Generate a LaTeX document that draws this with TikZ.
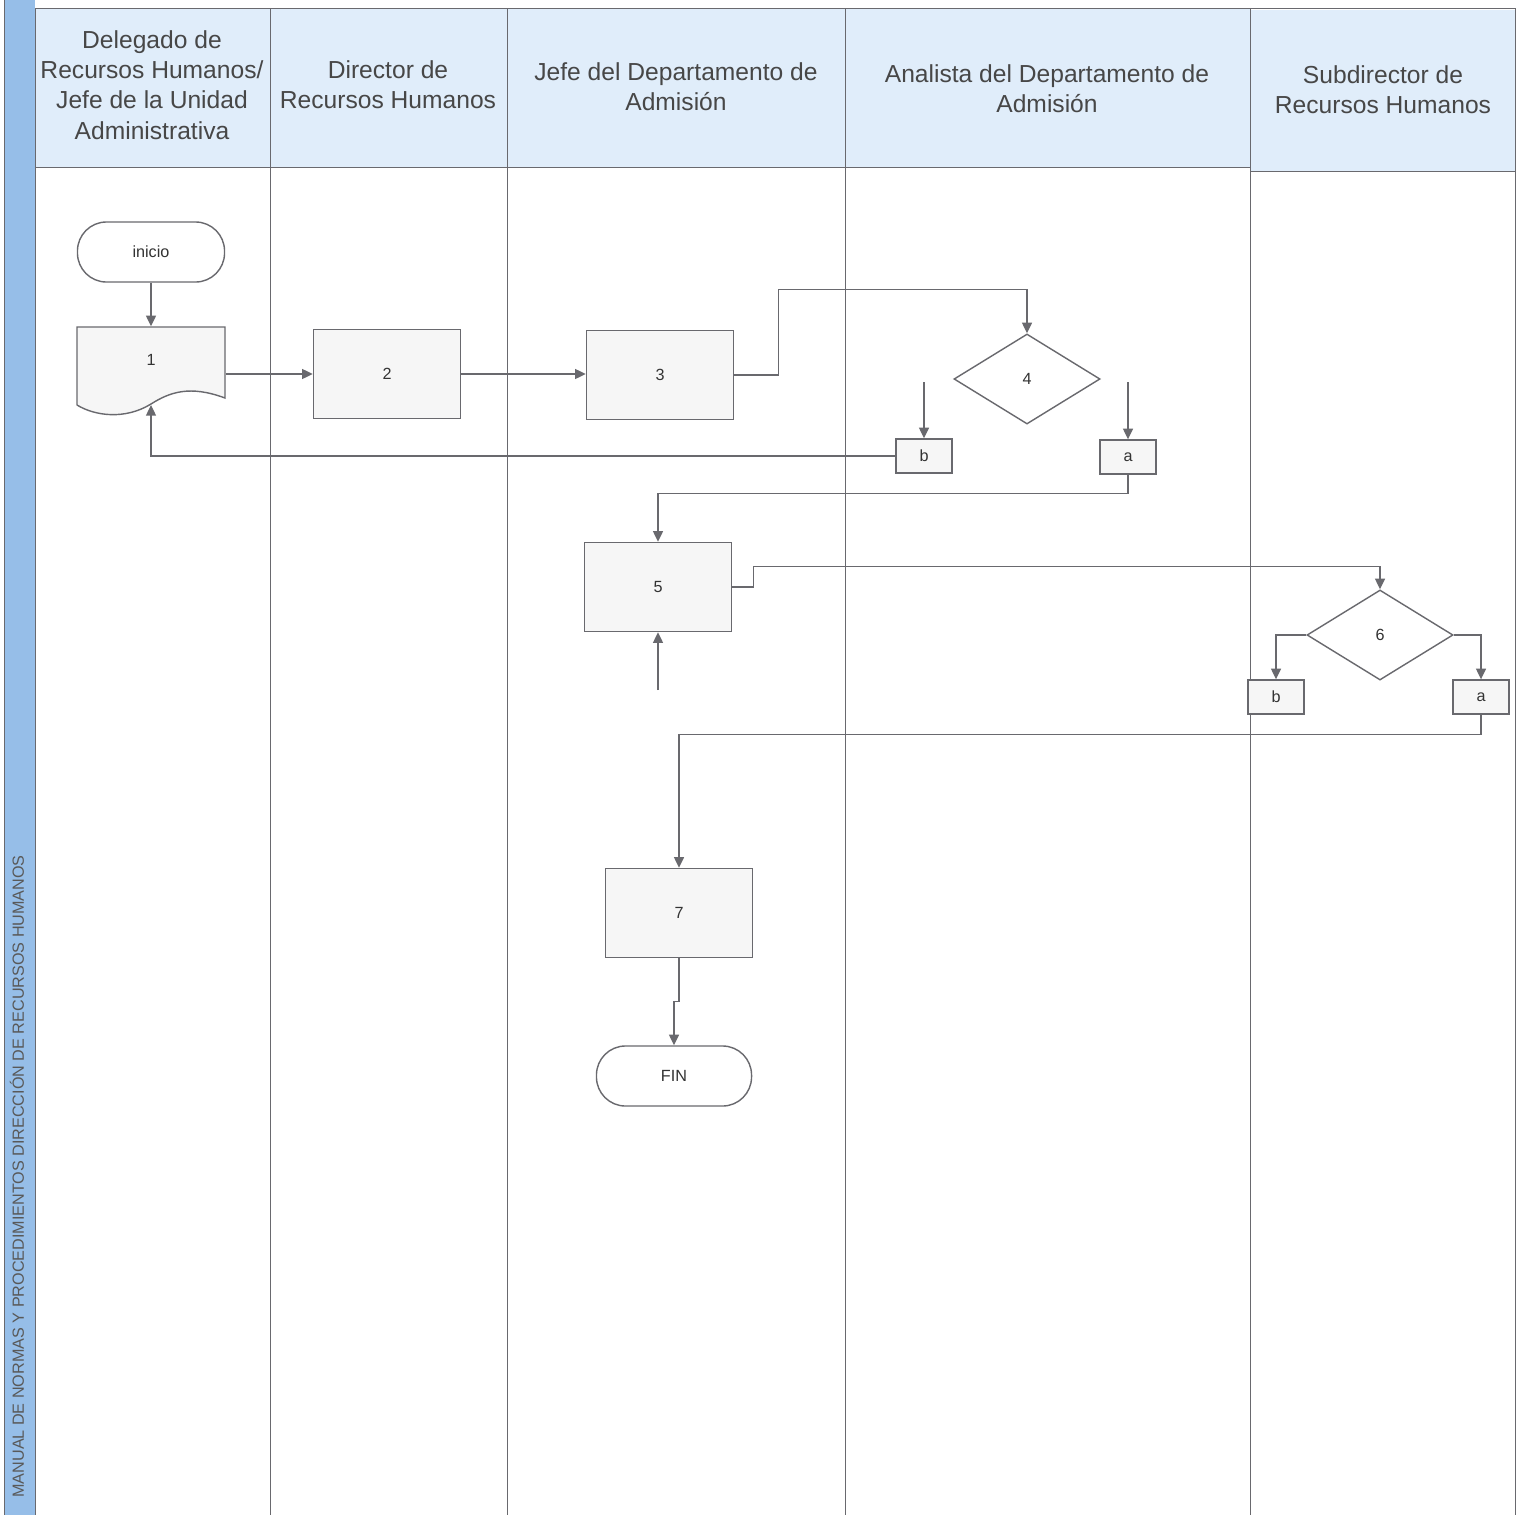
\documentclass[tikz,border=0pt]{standalone}
\usepackage{fontspec}
\setmainfont{Liberation Sans}
\usetikzlibrary{shapes.geometric, arrows.meta, calc}

\definecolor{stripblue}{RGB}{150,190,232}
\definecolor{headblue}{RGB}{224,237,250}
\definecolor{boxgray}{RGB}{246,246,246}
\definecolor{linegray}{RGB}{105,105,110}

\begin{document}
\begin{tikzpicture}[
        x=0.01cm, y=-0.01cm,
        lane/.style={draw=linegray, line width=0.25pt},
        head/.style={font=\fontsize{7}{8.6}\selectfont, text=black!72, align=center},
        proc/.style={rectangle, draw=linegray, line width=0.4pt, fill=boxgray, minimum width=1.47cm, minimum height=0.89cm, font=\fontsize{4.6}{6}\selectfont, text=black!80},
        docu/.style={rectangle, minimum width=1.48cm, minimum height=0.66cm, font=\fontsize{4.6}{6}\selectfont, text=black!80},
        term/.style={rectangle, rounded corners=2.9mm, draw=linegray, line width=0.4pt, fill=white, minimum width=1.47cm, minimum height=0.6cm, font=\fontsize{4.6}{6}\selectfont, text=black!80},
        decis/.style={diamond, draw=linegray, line width=0.4pt, fill=white, minimum width=1.46cm, minimum height=0.9cm, inner sep=0pt, font=\fontsize{4.6}{6}\selectfont, text=black!80},
        conn/.style={rectangle, draw=linegray, line width=0.4pt, fill=boxgray, minimum width=0.56cm, minimum height=0.34cm, inner sep=0pt, font=\fontsize{4.6}{6}\selectfont, text=black!80},
        flow/.style={-{Triangle[length=3pt, width=2.8pt]}, draw=linegray, line width=0.4pt}
    ]
        \useasboundingbox (0,0) rectangle (1518,1515);
        \fill[white] (0,0) rectangle (1518,1515);
        \fill[stripblue] (4,0) rectangle (35,1515);
        \draw[lane] (4,0) -- (4,1515);
        \fill[headblue] (35,8) rectangle (1250,167);
        \fill[headblue] (1250,10) rectangle (1515,171);
        \foreach \x in {35,270,507,845,1250,1515}
            \draw[lane] (\x,8) -- (\x,1515);
        \draw[lane] (35,8) -- (1515,8);
        \draw[lane] (35,167) -- (1250,167);
        \draw[lane] (1250,171) -- (1515,171);
        \node[rotate=90, anchor=west, font=\fontsize{4.6}{5}\selectfont, text=black!65] (side) at (17,1510) {MANUAL DE NORMAS Y PROCEDIMIENTOS DIRECCIÓN DE RECURSOS HUMANOS};

        \node[head] (h1) at (152,85) {Delegado de\\Recursos Humanos/\\Jefe de la Unidad\\Administrativa};
        \node[head] (h2) at (388,85) {Director de\\Recursos Humanos};
        \node[head] (h3) at (676,87) {Jefe del Departamento de\\Admisión};
        \node[head] (h4) at (1047,89) {Analista del Departamento de\\Admisión};
        \node[head] (h5) at (1383,90) {Subdirector de\\Recursos Humanos};

        \node[term] (ini) at (151,252) {inicio};
        \draw[draw=linegray, line width=0.4pt, fill=boxgray] (77,405) -- (77,327) -- (225,327) -- (225,398) .. controls (190,385) and (170,392) .. (151,404) .. controls (125,420) and (95,416) .. (77,405);
        \node[docu] (n1) at (151,360) {1};
        \coordinate (n1wave) at (151,405);
        \node[proc] (n2) at (387,374) {2};
        \node[proc] (n3) at (660,375) {3};
        \node[decis] (d4) at (1027,379) {4};
        \node[conn] (b1) at (924,456) {b};
        \node[conn] (a1) at (1128,457) {a};
        \node[proc] (n5) at (658,587) {5};
        \node[decis] (d6) at (1380,635) {6};
        \node[conn] (b2) at (1276,697) {b};
        \node[conn] (a2) at (1481,697) {a};
        \node[proc] (n7) at (679,913) {7};
        \node[term, minimum width=1.55cm] (fin) at (674,1076) {FIN};
        \coordinate (s4b) at (924,382);
        \coordinate (s4a) at (1128,382);
        \coordinate (s5) at (658,690);

        \draw[flow] (ini.south) -- (n1.north);
        \draw[flow] (n1.east |- n2.west) -- (n2.west);
        \draw[flow] (n2.east) -- (n3.west |- n2.east);
        \draw[flow] (n3.east) -- ++(44,0) |- ($(d4.north)+(0,-44)$) -- (d4.north);
        \draw[flow] (s4b) -- (b1.north);
        \draw[flow] (s4a) -- (a1.north);
        \draw[flow] (b1.west) -| (n1wave);
        \draw[flow] (a1.south) |- ($(n5.north)+(0,-48)$) -- (n5.north);
        \draw[flow] (n5.east) -- ++(21,0) |- ($(d6.north)+(0,-23)$) -- (d6.north);
        \draw[flow] (s5) -- (n5.south);
        \draw[flow] (d6.west) -| (b2.north);
        \draw[flow] (d6.east) -| (a2.north);
        \draw[flow] (a2.south) |- ($(n7.north)+(0,-133)$) -- (n7.north);
        \draw[flow] (n7.south) |- ($(n7.south)!0.5!(fin.north)$) -| (fin.north);
    \end{tikzpicture}
\end{document}
